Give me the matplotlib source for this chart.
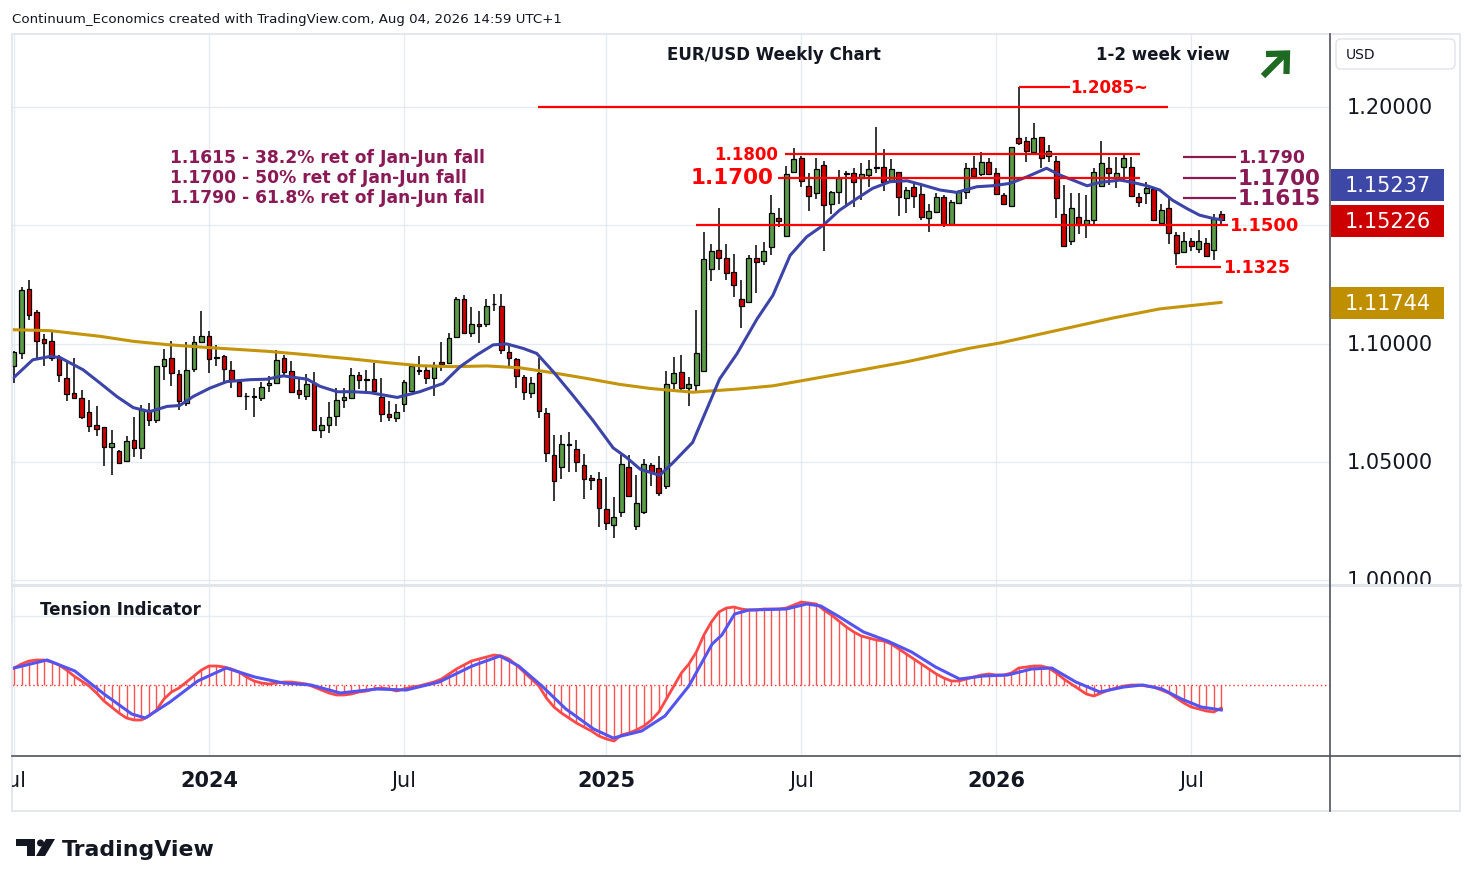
import numpy as np
import matplotlib
matplotlib.use("Agg")
import matplotlib.pyplot as plt
from matplotlib.patches import Rectangle, FancyBboxPatch, Polygon, Circle
from matplotlib.transforms import Bbox, TransformedBbox, blended_transform_factory
from matplotlib.lines import Line2D

W, H = 1474, 887

# weekly candles, week 0 = 3 Jul 2023 ... week 161 = 3 Aug 2026
opens = [1.0904,1.0961,1.1229,1.1134,1.1021,1.1013,1.0942,1.0855,1.0791,1.0770,
         1.0711,1.0657,1.0647,1.0562,1.0547,1.0506,1.0593,1.0561,1.0719,1.0677,
         1.0904,1.0939,1.0872,1.0751,1.0893,1.1007,1.1034,1.0942,1.0946,1.0890,
         1.0838,1.0780,1.0774,1.0770,1.0824,1.0833,1.0939,1.0886,1.0805,1.0781,
         1.0833,1.0634,1.0656,1.0695,1.0763,1.0771,1.0869,1.0850,1.0849,1.0776,
         1.0705,1.0687,1.0746,1.0801,1.0886,1.0890,1.0856,1.0924,1.0920,1.1028,
         1.1189,1.1047,1.1085,1.1082,1.1166,1.1161,1.0966,1.0934,1.0860,1.0793,
         1.0877,1.0708,1.0531,1.0479,1.0573,1.0557,1.0486,1.0433,1.0430,1.0302,
         1.0236,1.0288,1.0479,1.0232,1.0288,1.0487,1.0473,1.0399,1.0833,1.0879,
         1.0812,1.0825,1.0886,1.1317,1.1397,1.1362,1.1303,1.1190,1.1176,1.1363,
         1.1349,1.1409,1.1529,1.1455,1.1726,1.1786,1.1667,1.1635,1.1755,1.1589,
         1.1642,1.1716,1.1722,1.1698,1.1712,1.1745,1.1748,1.1688,1.1726,1.1616,
         1.1663,1.1632,1.1531,1.1557,1.1620,1.1507,1.1596,1.1642,1.1741,1.1715,
         1.1769,1.1722,1.1630,1.1581,1.1868,1.1856,1.1811,1.1872,1.1794,1.1773,
         1.1546,1.1433,1.1536,1.1505,1.1522,1.1667,1.1741,1.1698,1.1748,1.1748,
         1.1621,1.1638,1.1652,1.1510,1.1574,1.1461,1.1388,1.1434,1.1399,1.1427,
         1.1395,1.1547]
highs = [1.0968,1.1240,1.1271,1.1144,1.1042,1.1057,1.0953,1.0925,1.0939,1.0805,
         1.0763,1.0735,1.0647,1.0636,1.0551,1.0610,1.0692,1.0742,1.0751,1.0907,
         1.0977,1.1013,1.0890,1.1006,1.1034,1.1137,1.1052,1.0996,1.0953,1.0928,
         1.0848,1.0791,1.0812,1.0840,1.0862,1.0975,1.0953,1.0925,1.0859,1.0872,
         1.0880,1.0691,1.0752,1.0811,1.0811,1.0896,1.0882,1.0889,1.0917,1.0853,
         1.0759,1.0747,1.0846,1.0907,1.0949,1.0907,1.0924,1.1009,1.1047,1.1199,
         1.1204,1.1157,1.1136,1.1189,1.1211,1.1211,1.0995,1.0938,1.0867,1.0860,
         1.0938,1.0729,1.0613,1.0613,1.0627,1.0595,1.0535,1.0447,1.0458,1.0439,
         1.0352,1.0528,1.0528,1.0444,1.0514,1.0498,1.0526,1.0886,1.0943,1.0953,
         1.0858,1.1143,1.1472,1.1423,1.1571,1.1423,1.1380,1.1267,1.1373,1.1416,
         1.1430,1.1630,1.1574,1.1750,1.1828,1.1793,1.1719,1.1786,1.1772,1.1646,
         1.1733,1.1729,1.1741,1.1762,1.1776,1.1915,1.1822,1.1779,1.1726,1.1663,
         1.1677,1.1677,1.1592,1.1635,1.1628,1.1606,1.1649,1.1762,1.1794,1.1808,
         1.1786,1.1743,1.1635,1.1832,1.2085,1.1875,1.1931,1.1875,1.1839,1.1794,
         1.1670,1.1635,1.1638,1.1628,1.1741,1.1854,1.1790,1.1790,1.1797,1.1790,
         1.1635,1.1684,1.1656,1.1588,1.1616,1.1472,1.1472,1.1447,1.1479,1.1447,
         1.1546,1.1560]
lows = [1.0833,1.0937,1.1102,1.0939,1.0907,1.0925,1.0840,1.0760,1.0765,1.0682,
        1.0629,1.0612,1.0485,1.0445,1.0494,1.0506,1.0520,1.0513,1.0654,1.0664,
        1.0848,1.0822,1.0718,1.0737,1.0879,1.1006,1.0876,1.0907,1.0840,1.0812,
        1.0777,1.0718,1.0692,1.0756,1.0794,1.0830,1.0869,1.0796,1.0766,1.0763,
        1.0632,1.0603,1.0624,1.0651,1.0729,1.0766,1.0808,1.0793,1.0790,1.0670,
        1.0672,1.0670,1.0712,1.0801,1.0867,1.0828,1.0780,1.0884,1.0913,1.1026,
        1.1047,1.1027,1.1004,1.1072,1.1136,1.0955,1.0907,1.0811,1.0761,1.0769,
        1.0687,1.0500,1.0334,1.0427,1.0458,1.0458,1.0342,1.0384,1.0225,1.0215,
        1.0178,1.0267,1.0352,1.0211,1.0281,1.0399,1.0357,1.0388,1.0809,1.0802,
        1.0735,1.0794,1.0882,1.1263,1.1310,1.1267,1.1197,1.1065,1.1176,1.1214,
        1.1331,1.1373,1.1493,1.1455,1.1719,1.1663,1.1560,1.1611,1.1390,1.1546,
        1.1592,1.1585,1.1578,1.1606,1.1663,1.1719,1.1644,1.1681,1.1540,1.1550,
        1.1575,1.1522,1.1472,1.1550,1.1493,1.1503,1.1592,1.1613,1.1701,1.1710,
        1.1712,1.1628,1.1585,1.1581,1.1840,1.1769,1.1808,1.1741,1.1769,1.1532,
        1.1412,1.1416,1.1465,1.1447,1.1501,1.1667,1.1670,1.1656,1.1691,1.1621,
        1.1578,1.1592,1.1517,1.1505,1.1423,1.1331,1.1388,1.1390,1.1385,1.1366,
        1.1352,1.1505]
closes = [1.0963,1.1225,1.1120,1.1010,1.1003,1.0939,1.0866,1.0787,1.0770,1.0692,
          1.0654,1.0638,1.0565,1.0581,1.0497,1.0589,1.0558,1.0723,1.0677,1.0907,
          1.0937,1.0876,1.0756,1.0890,1.1009,1.1034,1.0935,1.0940,1.0893,1.0848,
          1.0781,1.0778,1.0776,1.0818,1.0833,1.0932,1.0879,1.0798,1.0787,1.0829,
          1.0634,1.0658,1.0692,1.0764,1.0774,1.0867,1.0846,1.0848,1.0800,1.0704,
          1.0691,1.0712,1.0839,1.0907,1.0887,1.0856,1.0910,1.0914,1.1026,1.1189,
          1.1047,1.1085,1.1075,1.1161,1.1167,1.0973,1.0938,1.0865,1.0797,1.0832,
          1.0716,1.0538,1.0420,1.0578,1.0575,1.0500,1.0430,1.0424,1.0305,1.0242,
          1.0267,1.0493,1.0356,1.0327,1.0493,1.0456,1.0371,1.0830,1.0875,1.0812,
          1.0830,1.0959,1.1359,1.1392,1.1362,1.1300,1.1246,1.1159,1.1362,1.1345,
          1.1392,1.1550,1.1519,1.1716,1.1779,1.1688,1.1623,1.1738,1.1585,1.1642,
          1.1698,1.1717,1.1684,1.1716,1.1736,1.1744,1.1684,1.1738,1.1620,1.1649,
          1.1625,1.1536,1.1561,1.1620,1.1507,1.1599,1.1642,1.1741,1.1708,1.1769,
          1.1715,1.1632,1.1592,1.1830,1.1849,1.1814,1.1868,1.1783,1.1815,1.1616,
          1.1412,1.1571,1.1503,1.1522,1.1724,1.1765,1.1720,1.1720,1.1783,1.1625,
          1.1599,1.1659,1.1522,1.1564,1.1468,1.1385,1.1434,1.1413,1.1434,1.1371,
          1.1526,1.15226]

# fast moving average (blue): week position, value
ma_fast_wk = [-0.1,2.5,4.8,6.1,9.2,11.5,13.7,15.9,18.1,20.4,22.1,23.9,26.1,28.4,31.5,33.7,35.9,
              39.1,40.8,43.1,45.2,47.5,51.1,54.1,57.2,59.5,61.7,63.9,65.7,67.9,69.7,71.9,74.5,
              77.2,79.9,81.7,83.5,86.1,87.9,90.5,92.4,94.1,96.4,99.1,101.2,103.5,105.7,107.9,
              110.1,112.4,114.5,116.8,119.1,121.2,123.5,125.7,128.4,130.5,132.8,135.1,137.7,
              139.5,141.2,143.1,144.8,147.5,149.2,151.1,152.8,154.5,156.4,158.1,159.9,161]
ma_fast = [1.0855,1.0932,1.0946,1.0942,1.0890,1.0833,1.0777,1.0730,1.0713,1.0735,1.0739,1.0777,
           1.0812,1.0840,1.0848,1.0850,1.0864,1.0850,1.0820,1.0797,1.0797,1.0793,1.0773,1.0797,
           1.0832,1.0903,1.0952,1.0995,1.0999,1.0980,1.0959,1.0882,1.0783,1.0676,1.0560,1.0519,
           1.0470,1.0444,1.0498,1.0583,1.0724,1.0851,1.0957,1.1105,1.1204,1.1373,1.1451,1.1500,
           1.1564,1.1613,1.1656,1.1684,1.1688,1.1670,1.1649,1.1639,1.1663,1.1667,1.1677,1.1705,
           1.1741,1.1712,1.1691,1.1667,1.1681,1.1691,1.1681,1.1667,1.1649,1.1606,1.1571,1.1543,
           1.1529,1.15237]

# slow moving average (gold)
ma_slow_wk = [-0.1,4.8,11.5,15.9,20.4,24.8,29.2,33.7,38.1,40.8,45.2,49.7,54.1,58.5,63.1,67.5,
              71.9,76.4,80.8,84.8,90.5,96.8,101.2,110.1,119.1,127.5,131.5,139.5,146.5,152.8,161]
ma_slow = [1.1059,1.1055,1.1031,1.1010,1.0996,1.0986,1.0977,1.0968,1.0956,1.0948,1.0935,1.0920,
           1.0907,1.0903,1.0906,1.0898,1.0877,1.0853,1.0828,1.0811,1.0795,1.0809,1.0822,1.0872,
           1.0924,1.0981,1.1003,1.1059,1.1108,1.1147,1.11744]

# Tension indicator: red line / histogram, one value per week
tension = [17,21,24,25,25,23,20,15,9,4,
           -1,-8,-16,-22,-28,-33,-35,-35,-31,-25,
           -14,-7,-3,3,9,15,19,19,18,16,
           13,8,4,2,1,2,3,3,2,1,
           -2,-5,-8,-10,-10,-9,-7,-6,-4,-3,
           -4,-6,-4,-2,-1,1,3,6,11,16,
           20,24,26,28,30,29,26,20,13,6,
           -1,-13,-22,-28,-33,-38,-42,-46,-51,-54,
           -56,-50,-48,-45,-41,-35,-27,-14,-1,12,
           21,33,50,63,73,77,78,76,75,75,
           76,76,76,77,80,83,82,81,75,70,
           64,58,53,49,47,45,44,41,36,31,
           26,21,16,11,7,4,4,6,8,10,
           11,10,10,12,17,18,19,19,17,12,
           6,1,-4,-9,-11,-8,-5,-3,-1,0,
           0,-1,-2,-5,-8,-13,-18,-22,-24,-26,
           -27,-23]
# Tension signal line (blue)
signal_wk = [0,4.4,8.1,12,15.7,17.5,20.8,24.5,28.3,32.1,35.9,39.6,43.5,48.4,52.3,56.7,61.1,64.8,
             67.3,70.4,73.6,77.3,79.9,83.7,86.8,90,93.1,94.4,96.1,98,103,105.7,107.6,110.1,
             113.3,116.5,119.7,122.9,126.1,129.3,132.5,135.7,138.4,141.6,144.8,148,150.5,153.1,
             155.7,158.3,161]
signal = [17,25,14,-9,-29,-33,-17,4,17,8,2,0,-8,-4,-5,3,19,29,19,-1,-24,-44,-53,-46,-31,-1,41,
          50,71,75,76,81,79,68,53,44,33,18,6,9,10,16,17,3,-7,-2,0,-4,-14,-22,-25]

tick_wk = [0, 26, 52, 79, 105, 131, 157]
tick_lab = ["Jul", "2024", "Jul", "2025", "Jul", "2026", "Jul"]
price_ticks = [1.0, 1.05, 1.1, 1.15, 1.2]
price_labels = [1.0, 1.05, 1.1, 1.2]   # 1.15 label is hidden under the close-price box

fib_notes = ["1.1615 - 38.2% ret of Jan-Jun fall",
             "1.1700 - 50% ret of Jan-Jun fall",
             "1.1790 - 61.8% ret of Jan-Jun fall"]

RED = "#ff0000"
PURP = "#8a1a55"
GRID = "#e6ebf1"


def fx(x):
    return x / W


def fy(y):
    return 1 - y / H


def px(x, y):
    # image pixel -> inches for dpi_scale_trans
    return (x / 100.0, (H - y) / 100.0)


fig = plt.figure(figsize=(W / 100, H / 100), dpi=100)
fig.patch.set_facecolor("white")

ax = fig.add_axes([fx(12), fy(585), fx(1330) - fx(12), fy(35) - fy(585)])
ax2 = fig.add_axes([fx(12), fy(757), fx(1330) - fx(12), fy(588) - fy(757)])
xl = (-0.27, 175.5)
for a in (ax, ax2):
    a.set_xlim(*xl)
    for s in a.spines.values():
        s.set_visible(False)
    a.set_xticks([])
    a.set_yticks([])
    for t in tick_wk:
        a.axvline(t, color=GRID, lw=1, zorder=0)
ax.set_ylim(0.9985, 1.2308)
ax2.set_ylim(-71, 98)
for p in price_ticks:
    ax.axhline(p, color=GRID, lw=1, zorder=0)
ax2.axhline(69, color=GRID, lw=1, zorder=0)

# candles
o = np.array(opens); h = np.array(highs); l = np.array(lows); c = np.array(closes)
wk = np.arange(len(o))
up = c >= o
cols = np.where(up, "#5a9a48", "#d00000")
ax.vlines(wk, l, h, color="black", lw=1.1, zorder=2)
ax.bar(wk, np.maximum(np.abs(c - o), 0.0003), bottom=np.minimum(o, c), width=0.64,
       color=cols, edgecolor="black", linewidth=0.9, zorder=3)

ax.plot(ma_slow_wk, ma_slow, color="#c4940a", lw=2.2, zorder=4, solid_capstyle="round")
ax.plot(ma_fast_wk, ma_fast, color="#3c44a8", lw=2.2, zorder=4, solid_capstyle="round")

# red levels
ax.hlines(1.2000, 69.9, 153.9, color=RED, lw=1.6, zorder=6)
ax.hlines(1.2085, 134.0, 140.8, color=RED, lw=1.6, zorder=6)
ax.text(140.9, 1.2085, "1.2085~", color=RED, fontsize=12, fontweight="bold", va="center", ha="left")
ax.hlines(1.1800, 102.8, 150.1, color=RED, lw=1.6, zorder=6)
ax.text(101.9, 1.1802, "1.1800", color=RED, fontsize=12, fontweight="bold", va="center", ha="right")
ax.hlines(1.1700, 101.9, 150.1, color=RED, lw=1.6, zorder=6)
ax.text(101.3, 1.1703, "1.1700", color=RED, fontsize=15.5, fontweight="bold", va="center", ha="right")
ax.hlines(1.1500, 90.9, 161.9, color=RED, lw=1.6, zorder=6)
ax.text(162.1, 1.1500, "1.1500", color=RED, fontsize=13, fontweight="bold", va="center", ha="left")
ax.hlines(1.1325, 155.0, 161.0, color=RED, lw=1.6, zorder=6)
ax.text(161.2, 1.1322, "1.1325", color=RED, fontsize=12.5, fontweight="bold", va="center", ha="left")

# purple retracement levels
for lev, fs in ((1.1790, 12.5), (1.1700, 15.5), (1.1615, 15.5)):
    ax.hlines(lev, 155.9, 163.0, color=PURP, lw=1.6, zorder=6)
    ax.text(163.2, lev, "%.4f" % lev, color=PURP, fontsize=fs, fontweight="bold", va="center", ha="left")

for note, lev in zip(fib_notes, (1.1788, 1.1703, 1.1619)):
    ax.text(20.8, lev, note, color=PURP, fontsize=12.3, fontweight="bold", va="center")

# tension indicator
ax2.axhline(0, color="#ff3030", lw=1, ls=(0, (1, 2)), zorder=1)
ax2.vlines(wk, 0, tension, color="#ff5050", lw=1, zorder=2)
ax2.plot(wk, tension, color="#ff4848", lw=2, zorder=3)
ax2.plot(signal_wk, signal, color="#5454f0", lw=2.2, zorder=4)
ax2.text(0.021, 0.87, "Tension Indicator", transform=ax2.transAxes, fontsize=12,
         fontweight="bold", va="center", ha="left", color="#131722")

# frames
fr = fig.dpi_scale_trans
fig.add_artist(Rectangle(px(12, 812), 1448 / 100, 777 / 100, transform=fr, fill=False,
                         edgecolor="#e0e3eb", lw=1.2))
fig.add_artist(Line2D([12 / 100, 1460 / 100], [(H - 586) / 100] * 2, transform=fr,
                      color="#e0e3eb", lw=2))
fig.add_artist(Line2D([12 / 100, 1460 / 100], [(H - 757) / 100] * 2, transform=fr,
                      color="#50535e", lw=1.2))
fig.add_artist(Line2D([1329.5 / 100] * 2, [(H - 35) / 100, (H - 812) / 100], transform=fr,
                      color="#50535e", lw=1.2))

# price scale
ytr = blended_transform_factory(fig.transFigure, ax.transData)
clip_main = TransformedBbox(Bbox.from_extents(0, fy(584.5), 1, 1), fig.transFigure)
for p in price_labels:
    t = fig.text(fx(1347), p, "%.5f" % p, transform=ytr, fontsize=15, va="center",
                 ha="left", color="#131722", zorder=3)
    t.set_clip_on(True)
    t.set_clip_box(clip_main)

for ytop, val, col in ((170, 1.15237, "#3d47a6"), (206, 1.15226, "#cc0000"),
                       (288, 1.11744, "#c08f00")):
    fig.add_artist(Rectangle(px(1331, ytop + 32), 113 / 100, 32 / 100, transform=fr,
                             facecolor=col, edgecolor="none", zorder=5))
    fig.text(fx(1388), fy(ytop + 16.5), "%.5f" % val, fontsize=15, color="white",
             ha="center", va="center", zorder=6)

fig.add_artist(FancyBboxPatch(px(1336, 70), 119 / 100, 30 / 100, transform=fr,
                              boxstyle="round,pad=0,rounding_size=0.05",
                              facecolor="white", edgecolor="#e0e3eb", lw=1))
fig.text(fx(1346), fy(55), "USD", fontsize=10, va="center", ha="left", color="#131722")

# time scale
xtr = blended_transform_factory(ax.transData, fig.transFigure)
clip_left = TransformedBbox(Bbox.from_extents(fx(12), 0, 1, 1), fig.transFigure)
for t, lab in zip(tick_wk, tick_lab):
    bold = lab.isdigit()
    tt = fig.text(t, fy(781), lab, transform=xtr, fontsize=15, ha="center", va="center",
                  fontweight="bold" if bold else "normal", color="#131722")
    tt.set_clip_on(True)
    tt.set_clip_box(clip_left)

# header / titles
fig.text(fx(12), fy(19), "Continuum_Economics created with TradingView.com, Aug 04, 2026 14:59 UTC+1",
         fontsize=9.6, va="center", ha="left", color="#131722")
fig.text(fx(774), fy(55), "EUR/USD Weekly Chart", fontsize=12, fontweight="bold",
         ha="center", va="center", color="#131722")
fig.text(fx(1163), fy(55), "1-2 week view", fontsize=12, fontweight="bold",
         ha="center", va="center", color="#131722")

# green arrow
fig.add_artist(Line2D([px(1263, 77)[0], px(1285, 55)[0]], [px(1263, 77)[1], px(1285, 55)[1]],
                      transform=fr, color="#1e6a22", lw=4.5, solid_capstyle="butt"))
fig.add_artist(Line2D([px(1266, 55)[0], px(1287, 54.5)[0], px(1286.5, 75)[0]],
                      [px(1266, 55)[1], px(1287, 54.5)[1], px(1286.5, 75)[1]],
                      transform=fr, color="#1e6a22", lw=4.5, solid_joinstyle="miter",
                      solid_capstyle="butt"))

# TradingView logo
logo = "#131722"
fig.add_artist(Polygon([px(16, 840), px(35, 840), px(35, 857), px(27, 857), px(27, 847), px(16, 847)],
                       closed=True, transform=fr, facecolor=logo, edgecolor="none"))
fig.add_artist(Circle(px(40.5, 844), 0.035, transform=fr, facecolor=logo, edgecolor="none"))
fig.add_artist(Polygon([px(46, 840), px(55, 840), px(45, 857), px(36, 857)], closed=True,
                       transform=fr, facecolor=logo, edgecolor="none"))
fig.text(fx(62), fy(850), "TradingView", fontsize=15.8, fontweight="bold", va="center",
         ha="left", color=logo)

fig.savefig("out.png", dpi=100)
